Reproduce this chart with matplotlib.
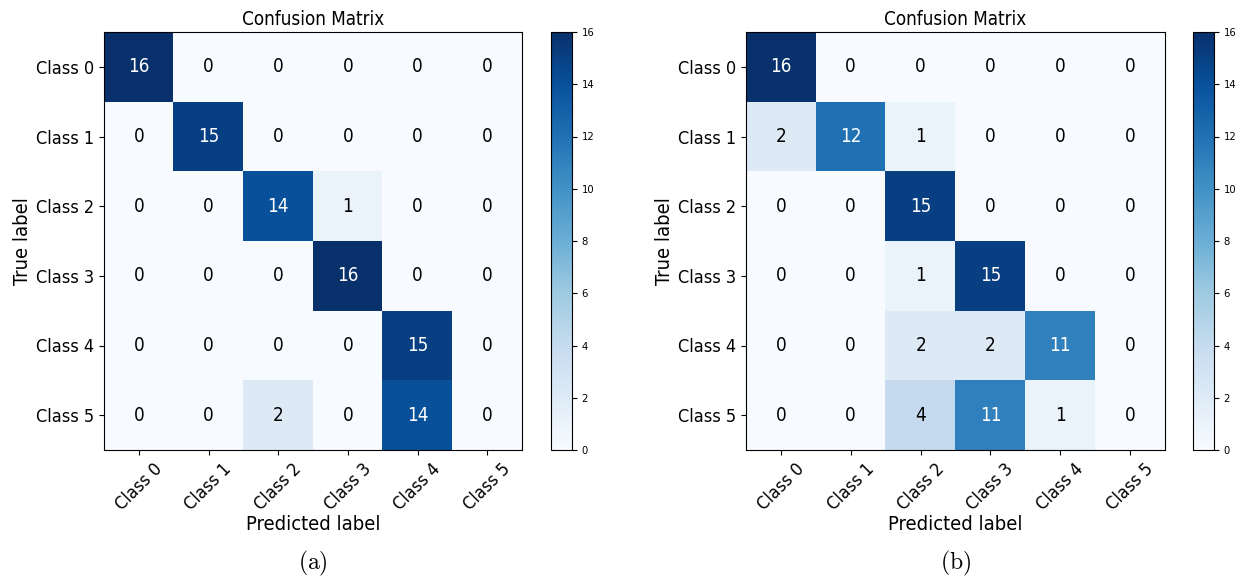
import numpy as np
import matplotlib
matplotlib.use("Agg")
import matplotlib.pyplot as plt
from matplotlib import font_manager

# Class names shared by both matrices
classes = ["Class 0", "Class 1", "Class 2", "Class 3", "Class 4", "Class 5"]

# Confusion matrix of model (a): rows = true label, columns = predicted label
cm_a = np.array([
    [16, 0, 0, 0, 0, 0],
    [0, 15, 0, 0, 0, 0],
    [0, 0, 14, 1, 0, 0],
    [0, 0, 0, 16, 0, 0],
    [0, 0, 0, 0, 15, 0],
    [0, 0, 2, 0, 14, 0],
])

# Confusion matrix of model (b)
cm_b = np.array([
    [16, 0, 0, 0, 0, 0],
    [2, 12, 1, 0, 0, 0],
    [0, 0, 15, 0, 0, 0],
    [0, 0, 1, 15, 0, 0],
    [0, 0, 2, 2, 11, 0],
    [0, 0, 4, 11, 1, 0],
])

captions = ["(a)", "(b)"]
cbar_ticks = [0, 2, 4, 6, 8, 10, 12, 14, 16]
vmin, vmax = 0, 16

# Prefer the condensed DejaVu face when it is installed
condensed = any("Condensed" in f.name or f.stretch in ("condensed", 300)
                for f in font_manager.fontManager.ttflist
                if f.name.startswith("DejaVu Sans"))
plt.rcParams["font.family"] = ["DejaVu Sans"]
if condensed:
    plt.rcParams["font.stretch"] = "condensed"
plt.rcParams["mathtext.fontset"] = "cm"

W, H = 1237, 580
fig = plt.figure(figsize=(W / 100, H / 100), dpi=100)


def px_axes(x0, y0, x1, y1):
    """Axes from pixel box (left, top, right, bottom)."""
    return fig.add_axes([x0 / W, 1 - y1 / H, (x1 - x0) / W, (y1 - y0) / H])


panels = [
    (cm_a, (104, 32, 522, 450), (551, 32, 572, 450)),
    (cm_b, (746, 32, 1165, 450), (1193, 32, 1214, 450)),
]

for (cm, box, cbox), cap in zip(panels, captions):
    ax = px_axes(*box)
    cax = px_axes(*cbox)
    im = ax.imshow(cm, cmap="Blues", vmin=vmin, vmax=vmax,
                   interpolation="nearest", aspect="auto")
    ax.set_title("Confusion Matrix", fontsize=13.5, pad=5)
    n = len(classes)
    ax.set_xticks(np.arange(n))
    ax.set_yticks(np.arange(n))
    ax.set_xticklabels(classes, rotation=45, ha="center", fontsize=13)
    ax.set_yticklabels(classes, fontsize=13)
    ax.set_xlabel("Predicted label", fontsize=14.5, labelpad=1)
    ax.set_ylabel("True label", fontsize=14.5, labelpad=3)
    thresh = cm.max() / 2.0
    for i in range(n):
        for j in range(n):
            v = cm[i, j]
            ax.text(j, i, f"{v}", ha="center", va="center", fontsize=13.5,
                    color="white" if v > thresh else "black")
    cb = fig.colorbar(im, cax=cax, ticks=cbar_ticks)
    cb.ax.tick_params(labelsize=8)
    cb.outline.set_linewidth(0.8)

    cx = (box[0] + box[2]) / 2 / W
    fig.text(cx, 1 - 563 / H, r"$\mathrm{" + cap + "}$", ha="center",
             va="center", fontsize=17)

fig.savefig("out.png", dpi=100)
